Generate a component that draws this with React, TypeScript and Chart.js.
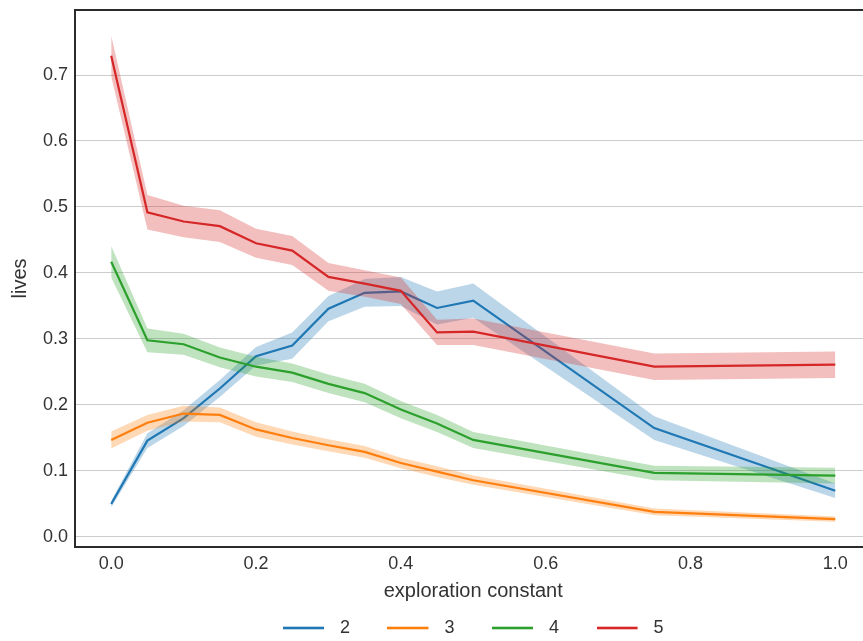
import { useEffect, useRef } from "react";
import { Chart, registerables } from "chart.js";

Chart.register(...registerables);

const X_VALUES = [0, 0.05, 0.1, 0.15, 0.2, 0.25, 0.3, 0.35, 0.4, 0.45, 0.5, 0.75, 1.0];

const SERIES_NAMES = ["2", "3", "4", "5"];
const SERIES_COLORS = ["#1f77b4", "#ff7f0e", "#2ca02c", "#d62728"];
const BAND_COLORS = [
  "rgba(31,119,180,0.3)",
  "rgba(255,127,14,0.3)",
  "rgba(44,160,44,0.3)",
  "rgba(214,39,40,0.3)",
];

const LIVES_2 = [0.050, 0.146, 0.180, 0.225, 0.274, 0.290, 0.346, 0.370, 0.372, 0.347, 0.358, 0.165, 0.070];
const CI_2 = [0.005, 0.011, 0.012, 0.013, 0.014, 0.020, 0.019, 0.021, 0.022, 0.025, 0.026, 0.018, 0.011];

const LIVES_3 = [0.147, 0.173, 0.187, 0.185, 0.163, 0.150, 0.139, 0.129, 0.112, 0.099, 0.086, 0.038, 0.027];
const CI_3 = [0.013, 0.012, 0.012, 0.011, 0.011, 0.010, 0.009, 0.009, 0.008, 0.008, 0.007, 0.005, 0.004];

const LIVES_4 = [0.417, 0.298, 0.292, 0.272, 0.258, 0.249, 0.232, 0.218, 0.193, 0.172, 0.147, 0.097, 0.093];
const CI_4 = [0.024, 0.018, 0.016, 0.015, 0.015, 0.014, 0.014, 0.014, 0.013, 0.013, 0.012, 0.011, 0.012];

const LIVES_5 = [0.729, 0.492, 0.478, 0.471, 0.445, 0.434, 0.394, 0.384, 0.373, 0.310, 0.311, 0.258, 0.261];
const CI_5 = [0.031, 0.026, 0.024, 0.024, 0.022, 0.022, 0.021, 0.020, 0.020, 0.019, 0.020, 0.020, 0.020];

const X_TICKS = [0.0, 0.2, 0.4, 0.6, 0.8, 1.0];
const Y_TICKS = [0.0, 0.1, 0.2, 0.3, 0.4, 0.5, 0.6, 0.7];

const X_TITLE = "exploration constant";
const Y_TITLE = "lives";

const FONT = "'Liberation Sans', Arial, sans-serif";
const TEXT_COLOR = "#333333";
const SPINE_COLOR = "#2b2b2b";

const MEANS = [LIVES_2, LIVES_3, LIVES_4, LIVES_5];
const CIS = [CI_2, CI_3, CI_4, CI_5];

function makeLegendImage(color: string): HTMLCanvasElement {
  const c = document.createElement("canvas");
  c.width = 48;
  c.height = 4;
  const g = c.getContext("2d")!;
  g.fillStyle = color;
  g.fillRect(0, 0.7, 41, 2.6);
  return c;
}

const topSpine = {
  id: "topSpine",
  afterDatasetsDraw(chart: any) {
    const { ctx, chartArea } = chart;
    ctx.save();
    ctx.strokeStyle = SPINE_COLOR;
    ctx.lineWidth = 2;
    ctx.beginPath();
    ctx.moveTo(chartArea.left - 1, chartArea.top);
    ctx.lineTo(chartArea.right, chartArea.top);
    ctx.stroke();
    ctx.restore();
  },
};

export default function App() {
  const ref = useRef<HTMLCanvasElement | null>(null);

  useEffect(() => {
    if (!ref.current) return;
    const n = MEANS.length;
    const lines: any[] = [];
    const bands: any[] = [];
    const lowers: any[] = [];
    for (let i = 0; i < n; i++) {
      const mean = MEANS[i];
      const ci = CIS[i];
      lines.push({
        label: SERIES_NAMES[i],
        data: X_VALUES.map((x, k) => ({ x, y: mean[k] })),
        borderColor: SERIES_COLORS[i],
        backgroundColor: SERIES_COLORS[i],
        borderWidth: 2.2,
        pointRadius: 0,
        tension: 0,
        fill: false,
        order: 40 - 10 * i,
      });
      bands.push({
        label: SERIES_NAMES[i] + " upper",
        data: X_VALUES.map((x, k) => ({ x, y: mean[k] + ci[k] })),
        borderWidth: 0,
        borderColor: "rgba(0,0,0,0)",
        backgroundColor: BAND_COLORS[i],
        pointRadius: 0,
        tension: 0,
        fill: 2 * n + i,
        order: 41 - 10 * i,
      });
      lowers.push({
        label: SERIES_NAMES[i] + " lower",
        data: X_VALUES.map((x, k) => ({ x, y: mean[k] - ci[k] })),
        borderWidth: 0,
        borderColor: "rgba(0,0,0,0)",
        backgroundColor: "rgba(0,0,0,0)",
        pointRadius: 0,
        tension: 0,
        fill: false,
        order: 100,
      });
    }
    const legendImages = SERIES_COLORS.map(makeLegendImage);

    const chart = new Chart(ref.current, {
      type: "line",
      data: { datasets: [...lines, ...bands, ...lowers] },
      options: {
        animation: false,
        responsive: false,
        devicePixelRatio: 1,
        layout: { padding: { top: 10, right: 8.5, left: 0, bottom: 0 } },
        plugins: {
          tooltip: { enabled: false },
          legend: {
            display: true,
            position: "bottom",
            fullSize: false,
            labels: {
              usePointStyle: true,
              pointStyleWidth: 48,
              padding: 37.5,
              color: TEXT_COLOR,
              font: { size: 18, family: FONT },
              generateLabels: () =>
                SERIES_NAMES.map((name, i) => ({
                  text: name,
                  datasetIndex: i,
                  fillStyle: SERIES_COLORS[i],
                  strokeStyle: "rgba(0,0,0,0)",
                  lineWidth: 0,
                  pointStyle: legendImages[i] as any,
                  fontColor: TEXT_COLOR,
                  hidden: false,
                })),
            },
          },
        },
        scales: {
          x: {
            type: "linear",
            min: -0.05,
            max: 1.05,
            afterBuildTicks: (s: any) => {
              s.ticks = X_TICKS.map((v) => ({ value: v }));
            },
            afterFit: (s: any) => {
              s.height = 34.5;
              s.paddingLeft = 0;
              s.paddingRight = 0;
            },
            grid: { display: false, drawTicks: false },
            border: { display: true, color: SPINE_COLOR, width: 2 },
            ticks: {
              padding: 6,
              color: TEXT_COLOR,
              font: { size: 18, family: FONT },
              maxRotation: 0,
              autoSkip: false,
              callback: (v: any) => Number(v).toFixed(1),
            },
            title: {
              display: true,
              text: X_TITLE,
              color: TEXT_COLOR,
              font: { size: 20, family: FONT },
              padding: { top: 0, bottom: -22 },
            },
          },
          y: {
            type: "linear",
            min: -0.0152,
            max: 0.7985,
            afterBuildTicks: (s: any) => {
              s.ticks = Y_TICKS.map((v) => ({ value: v }));
            },
            afterFit: (s: any) => {
              s.width = 75;
              s.paddingTop = 0;
              s.paddingBottom = 0;
            },
            grid: { display: true, drawTicks: false, color: "#cccccc", lineWidth: 1 },
            border: { display: true, color: SPINE_COLOR, width: 2 },
            ticks: {
              padding: 7,
              color: TEXT_COLOR,
              font: { size: 18, family: FONT },
              autoSkip: false,
              callback: (v: any) => Number(v).toFixed(1),
            },
            title: {
              display: true,
              text: Y_TITLE,
              color: TEXT_COLOR,
              font: { size: 20, family: FONT },
              padding: { top: 8.8, bottom: 0 },
            },
          },
        },
      },
      plugins: [topSpine],
    });
    return () => chart.destroy();
  }, []);

  return (
    <div
      style={{
        position: "fixed",
        left: 0,
        top: 0,
        width: 863,
        height: 641,
        overflow: "hidden",
        background: "#ffffff",
      }}
    >
      <canvas ref={ref} width={880} height={647} style={{ display: "block", width: 880, height: 647 }} />
    </div>
  );
}
